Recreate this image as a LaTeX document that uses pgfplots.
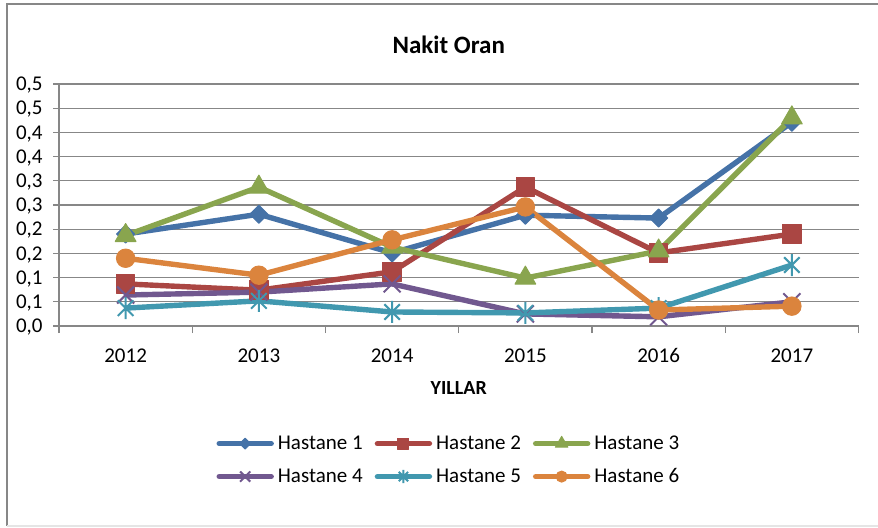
\documentclass[border=0pt]{standalone}
\usepackage{fontspec}
\setmainfont{Carlito}
\usepackage{pgfplots}
\pgfplotsset{compat=1.18}

\definecolor{hblue}{HTML}{4572A7}
\definecolor{hred}{HTML}{AA4643}
\definecolor{hgreen}{HTML}{89A54E}
\definecolor{hpurple}{HTML}{71588F}
\definecolor{hteal}{HTML}{4198AF}
\definecolor{horange}{HTML}{DB843D}
\definecolor{gridgray}{HTML}{878787}

% Excel "star" marker: an x with a vertical stroke
\pgfdeclareplotmark{xstar}{%
  \pgfpathmoveto{\pgfqpoint{-.7071\pgfplotmarksize}{-.7071\pgfplotmarksize}}%
  \pgfpathlineto{\pgfqpoint{.7071\pgfplotmarksize}{.7071\pgfplotmarksize}}%
  \pgfpathmoveto{\pgfqpoint{-.7071\pgfplotmarksize}{.7071\pgfplotmarksize}}%
  \pgfpathlineto{\pgfqpoint{.7071\pgfplotmarksize}{-.7071\pgfplotmarksize}}%
  \pgfpathmoveto{\pgfqpoint{0pt}{-\pgfplotmarksize}}%
  \pgfpathlineto{\pgfqpoint{0pt}{\pgfplotmarksize}}%
  \pgfusepathqstroke}

\begin{document}
\begin{tikzpicture}
\path[use as bounding box] (0,0) rectangle (439pt,263.5pt);
\begin{axis}[
  at={(29.5pt,100.5pt)}, anchor=south west,
  width=399.75pt, height=121pt, scale only axis,
  xmin=0.5, xmax=6.5, ymin=0, ymax=0.5,
  clip=false,
  axis lines*=left,
  axis line style={gridgray, line width=0.6pt},
  tick align=outside,
  tick style={gridgray, line width=0.6pt},
  major tick length=3pt, minor tick length=3.5pt,
  xtick={1,2,3,4,5,6},
  xticklabels={2012,2013,2014,2015,2016,2017},
  major x tick style={draw=none},
  minor xtick={0.5,1.5,2.5,3.5,4.5,5.5,6.5},
  ytick={0,0.05,0.1,0.15,0.2,0.25,0.3,0.35,0.4,0.45,0.5},
  yticklabels={{0,0},{0,1},{0,1},{0,2},{0,2},{0,3},{0,3},{0,4},{0,4},{0,5},{0,5}},
  ymajorgrids,
  grid style={gridgray, line width=0.6pt},
  ticklabel style={font=\fontsize{10.5}{12.6}\selectfont, inner sep=0pt},
  yticklabel style={anchor=base east, xshift=-5pt, yshift=-3.3pt},
  xticklabel style={anchor=base, yshift=-15pt},
  title={Nakit Oran},
  title style={at={(axis description cs:0.4875,1.078)}, anchor=base, inner sep=0pt,
    yshift=0pt, font=\fontsize{12.5}{15}\selectfont\bfseries},
  xlabel={YILLAR},
  xlabel style={at={(axis description cs:0.5,-0.285)}, anchor=base, inner sep=0pt,
    font=\fontsize{10}{12}\selectfont\bfseries},
  legend columns=3,
  legend cell align=left,
  legend style={
    at={(axis description cs:0.1965,-0.445)}, anchor=north west,
    draw=none, fill=none, inner sep=0pt,
    font=\fontsize{10.5}{12.6}\selectfont,
    nodes={inner sep=0pt, text height=7.5pt, text depth=2pt},
    column sep=0pt, row sep=7pt,
    /tikz/every odd column/.append style={column sep=2pt},
    /tikz/every even column/.append style={column sep=6pt},
  },
  legend image code/.code={
    \draw[#1, line cap=round] (0pt,0pt) -- (26pt,0pt);
    \draw[#1, /tikz/every mark/.append style={scale=0.6}] plot coordinates {(13pt,0pt)};
  },
  every axis plot/.append style={line width=2.7pt, line join=round},
]
\addplot[color=hblue, mark=square*, mark size=3.2pt,
  mark options={rotate=45, line width=0.5pt}]
  coordinates {(1,0.190) (2,0.231) (3,0.151) (4,0.229) (5,0.223) (6,0.421)};
\addlegendentry{Hastane 1}
\addplot[color=hred, mark=square*, mark size=4.6pt,
  mark options={line width=0.5pt}]
  coordinates {(1,0.087) (2,0.074) (3,0.112) (4,0.287) (5,0.151) (6,0.190)};
\addlegendentry{Hastane 2}
\addplot[color=hgreen, mark=triangle*, mark size=6pt,
  mark options={line width=0.5pt}]
  coordinates {(1,0.187) (2,0.287) (3,0.163) (4,0.099) (5,0.155) (6,0.430)};
\addlegendentry{Hastane 3}
\addplot[color=hpurple, mark=x, mark size=6pt,
  mark options={line width=1pt}]
  coordinates {(1,0.064) (2,0.070) (3,0.087) (4,0.025) (5,0.019) (6,0.050)};
\addlegendentry{Hastane 4}
\addplot[color=hteal, mark=xstar, mark size=5.5pt,
  mark options={line width=1pt}]
  coordinates {(1,0.037) (2,0.052) (3,0.029) (4,0.027) (5,0.037) (6,0.126)};
\addlegendentry{Hastane 5}
\addplot[color=horange, mark=*, mark size=4.6pt,
  mark options={line width=0.5pt}]
  coordinates {(1,0.140) (2,0.105) (3,0.178) (4,0.246) (5,0.033) (6,0.041)};
\addlegendentry{Hastane 6}
\end{axis}
\draw[gridgray, line width=0.6pt] (3.5pt,0.5pt) -- (3.5pt,261.5pt) -- (439pt,261.5pt);
\draw[black!10, line width=0.6pt] (3.5pt,0.5pt) -- (439pt,0.5pt);
\end{tikzpicture}
\end{document}
